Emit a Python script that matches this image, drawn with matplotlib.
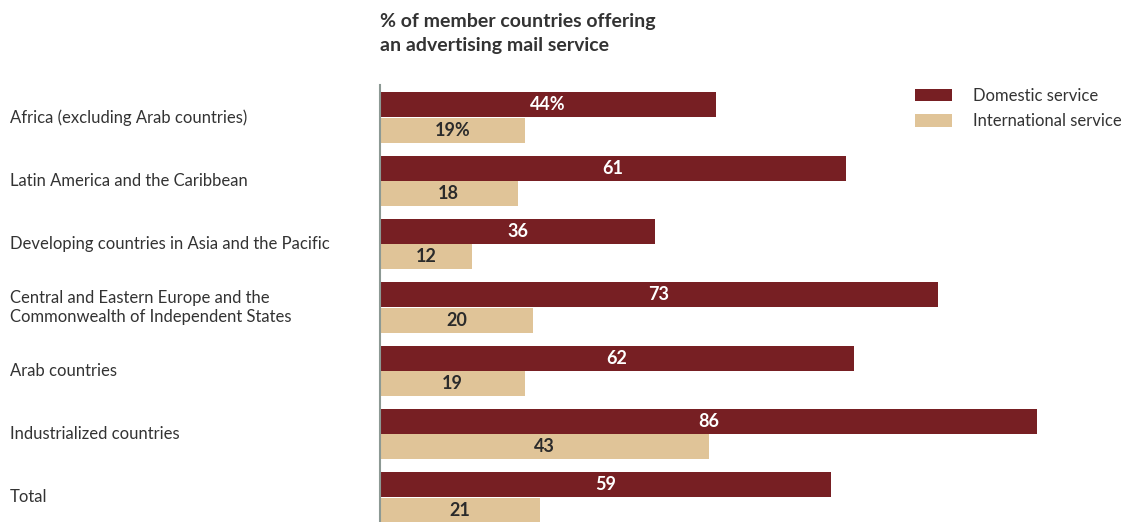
import matplotlib.pyplot as plt
import numpy as np

regions = [
    'Africa (excluding Arab countries)',
    'Latin America and the Caribbean',
    'Developing countries in Asia and the Pacific',
    'Central and Eastern Europe and the\nCommonwealth of Independent States',
    'Arab countries',
    'Industrialized countries',
    'Total',
]
domestic = [44, 61, 36, 73, 62, 86, 59]
international = [19, 18, 12, 20, 19, 43, 21]

DOM_COLOR = '#771f23'
INT_COLOR = '#e0c498'

plt.rcParams['font.family'] = ['Lato', 'DejaVu Sans']

fig = plt.figure(figsize=(11.23, 5.22), dpi=100)
ax = fig.add_axes([380 / 1123, 0, 743 / 1123, 1 - 85 / 522])

y = np.arange(len(regions))
h = 0.395
ax.barh(y - 0.2, domestic, height=h, color=DOM_COLOR, label='Domestic service')
ax.barh(y + 0.2, international, height=h, color=INT_COLOR, label='International service')

for i, (d, n) in enumerate(zip(domestic, international)):
    suffix = '%' if i == 0 else ''
    ax.text(d / 2, i - 0.2, f'{d}{suffix}', ha='center', va='center',
            color='white', fontsize=13, fontweight='bold')
    ax.text(n / 2, i + 0.2, f'{n}{suffix}', ha='center', va='center',
            color='#2b2b2b', fontsize=13, fontweight='bold')

ax.set_xlim(0, 743 / 7.64)
ax.set_ylim(6.387, -0.513)
for s in ['top', 'right', 'bottom']:
    ax.spines[s].set_visible(False)
ax.spines['left'].set_color('#8c9994')
ax.spines['left'].set_linewidth(1.5)
ax.set_xticks([])
ax.set_yticks([])

for i, r in enumerate(regions):
    fig.text(10 / 1123, 1 - (117.5 + 63.33 * i) / 522, r, ha='left', va='center',
             fontsize=12, color='#333333', linespacing=1.25)

fig.text(380 / 1123, 1 - 33 / 522, '% of member countries offering\nan advertising mail service',
         ha='left', va='center', fontsize=14, fontweight='bold', color='#333333',
         linespacing=1.5)

ax.legend(loc='upper left', bbox_to_anchor=(900 / 1123, 1 - 73 / 522),
          bbox_transform=fig.transFigure, frameon=False, fontsize=12,
          handlelength=2.2, handleheight=0.78, handletextpad=1.26, labelspacing=0.55,
          labelcolor='#333333')

fig.savefig('out.png', dpi=100)
